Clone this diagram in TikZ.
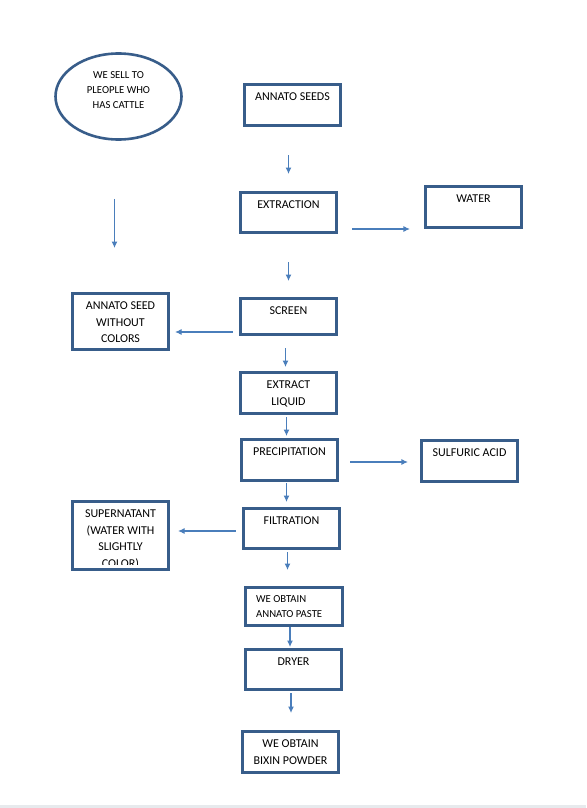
\documentclass[tikz,border=0pt]{standalone}
\usepackage{fontspec}
\setmainfont{Carlito}
\usepackage{tikz}
\usetikzlibrary{arrows.meta, shapes.geometric, calc}
\tikzset{>={Latex[length=6.5pt,width=6pt]}}
\definecolor{boxblue}{RGB}{56, 93, 138}
\definecolor{flowblue}{RGB}{74, 126, 187}
\definecolor{pagegray}{RGB}{231, 234, 237}

\begin{document}
\begin{tikzpicture}[x=1pt, y=-1pt,
  box/.style={draw=boxblue, line width=2.6pt, minimum width=96.5pt, inner sep=0pt},
  txt/.style={anchor=north, align=center, inner sep=0pt, font=\fontsize{12}{16.5}\selectfont},
  smalltxt/.style={txt, font=\fontsize{10.7}{15}\selectfont},
  flow/.style={->, draw=flowblue, line width=1.1pt}]
\useasboundingbox (0,0) rectangle (586,808);
\fill[pagegray] (0,805) rectangle (586,808);

\node[ellipse, draw=boxblue, line width=2.6pt, minimum width=126pt, minimum height=86pt] (ell) at (118.5,96.5) {};
\node[smalltxt] (ellT) at ([yshift=-19.5pt]ell.north) {WE SELL TO\\PLEOPLE WHO\\HAS CATTLE};

\node[box, minimum height=41.4pt] (seeds) at (292.5,105) {};
\node[txt] (seedsT) at ([yshift=-10pt]seeds.north) {ANNATO SEEDS};
\node[box, minimum height=40.4pt] (extr) at (288.5,212.5) {};
\node[txt] (extrT) at ([yshift=-10pt]extr.north) {EXTRACTION};
\node[box, minimum height=41.4pt] (water) at (473.5,207) {};
\node[txt] (waterT) at ([yshift=-10pt]water.north) {WATER};
\node[box, minimum height=36.4pt] (screen) at (288.5,316.5) {};
\node[txt] (screenT) at ([yshift=-10pt]screen.north) {SCREEN};
\node[box, minimum height=56.4pt] (nocolor) at (120.5,321.5) {};
\node[txt] (nocolorT) at ([yshift=-10pt]nocolor.north) {ANNATO SEED\\WITHOUT\\COLORS};
\node[box, minimum height=41.4pt] (liquid) at (288.5,393) {};
\node[txt] (liquidT) at ([yshift=-10pt]liquid.north) {EXTRACT\\LIQUID};
\node[box, minimum height=41.4pt] (precip) at (289.5,460) {};
\node[txt] (precipT) at ([yshift=-10pt]precip.north) {PRECIPITATION};
\node[box, minimum height=41.4pt] (sulf) at (469.5,461) {};
\node[txt] (sulfT) at ([yshift=-10pt]sulf.north) {SULFURIC ACID};
\node[box, minimum height=40.4pt] (filt) at (291.5,528.5) {};
\node[txt] (filtT) at ([yshift=-9.5pt]filt.north) {FILTRATION};
\node[box, minimum height=68.4pt] (super) at (120.5,535.5) {};
\begin{scope}
\clip (super.north west) rectangle ([yshift=7pt]super.south east);
\node[txt] (superT) at ([yshift=-10pt]super.north) {SUPERNATANT\\(WATER WITH\\SLIGHTLY\\COLOR)};
\end{scope}
\node[box, minimum height=38.4pt] (paste) at (294,606.5) {};
\node[smalltxt, anchor=north west, align=left] (pasteT) at ([xshift=-38pt, yshift=-9.5pt]paste.north) {WE OBTAIN\\ANNATO PASTE};
\node[box, minimum height=40.4pt] (dryer) at (293.5,669.5) {};
\node[txt] (dryerT) at ([yshift=-10pt]dryer.north) {DRYER};
\node[box, minimum height=41.4pt] (bixin) at (290.5,752) {};
\node[txt] (bixinT) at ([yshift=-10pt]bixin.north) {WE OBTAIN\\BIXIN POWDER};

\draw[flow, shorten <=28pt, shorten >=17pt] (extr.north |- seeds.south) -- (extr.north);
\draw[flow, shorten <=58pt, shorten >=44pt] ([xshift=-6pt]nocolor.north |- ell.south) -- ([xshift=-6pt]nocolor.north);
\draw[flow, shorten <=14pt, shorten >=14pt] ([yshift=-16.5pt]extr.east) -- ([yshift=-16.5pt]extr.east -| water.west);
\draw[flow, shorten <=28pt, shorten >=16pt] (extr.south) -- (screen.north);
\draw[flow, shorten <=6pt, shorten >=5pt] ([yshift=-15.5pt]screen.west) -- ([yshift=-15.5pt]screen.west -| nocolor.east);
\draw[flow, shorten <=12pt, shorten >=4pt] ([xshift=-3pt]screen.south) -- ([xshift=-3pt]liquid.north);
\draw[flow, shorten <=2pt, shorten >=2pt] ([xshift=-2pt]liquid.south) -- ([xshift=-2pt]liquid.south |- precip.north);
\draw[flow, shorten <=11pt, shorten >=12pt] ([yshift=-2pt]precip.east) -- ([yshift=-2pt]precip.east -| sulf.west);
\draw[flow, shorten <=1pt, shorten >=5pt] ([xshift=-3pt]precip.south) -- ([xshift=-3pt]precip.south |- filt.north);
\draw[flow, shorten <=6pt, shorten >=8pt] ([yshift=-2.5pt]filt.west) -- ([yshift=-2.5pt]filt.west -| super.east);
\draw[flow, shorten <=2pt, shorten >=16pt] ([xshift=-4pt]filt.south) -- ([xshift=-4pt]filt.south |- paste.north);
\draw[flow, shorten >=1pt] ([xshift=-4pt]paste.south) -- ([xshift=-4pt]paste.south |- dryer.north);
\draw[flow, shorten <=2pt, shorten >=17pt] ([xshift=-2.5pt]dryer.south) -- ([xshift=-2.5pt]dryer.south |- bixin.north);
\end{tikzpicture}
\end{document}
